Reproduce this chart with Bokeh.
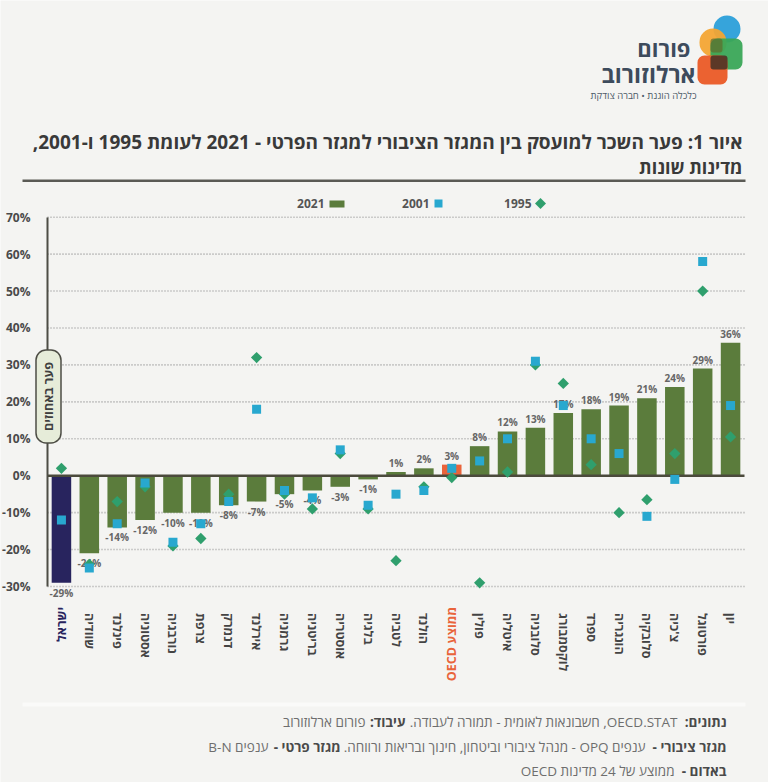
import math

from bokeh.core.properties import value
from bokeh.embed import file_html
from bokeh.models import (BoxAnnotation, ColumnDataSource, FixedTicker, Label,
                          PolyAnnotation, PrintfTickFormatter, Range1d)
from bokeh.plotting import figure
from bokeh.resources import INLINE

# ---------------------------------------------------------------- data
countries = [
    "ישראל", "שוודיה", "פינלנד", "אסטוניה", "נורבגיה", "צרפת", "דנמרק",
    "אירלנד", "גרמניה", "בריטניה", "אוסטריה", "בלגיה", "לטביה", "הולנד",
    "ממוצע OECD", "פולין", "איטליה", "סלובניה", "לוקסמבורג", "ספרד",
    "הונגריה", "סלובקיה", "צ'כיה", "פורטוגל", "יון",
]
gap_2021 = [-29, -21, -14, -12, -10, -10, -8, -7, -5, -4, -3, -1, 1, 2, 3,
            8, 12, 13, 17, 18, 19, 21, 24, 29, 36]
gap_2001 = [-12, -25, -13, -2, -18, -13, -7, 18, -4, -6, 7, -8, -5, -4, 2,
            4, 10, 31, 19, 10, 6, -11, -1, 58, 19]
gap_1995 = [2, -24, -7, -3, -19, -17, -5, 32, -5, -9, 6, -9, -23, -3, -0.5,
            -29, 1, 30, 25, 3, -10, -6.5, 6, 50, 10.5]
y_ticks = [-30, -20, -10, 0, 10, 20, 30, 40, 50, 60, 70]
israel = "ישראל"
oecd_avg = "ממוצע OECD"

# ---------------------------------------------------------------- style
BG = "#f4f4f2"
BAR_GREEN = "#5b7c3c"
NAVY = "#28245e"
ORANGE = "#e9643b"
CYAN = "#28a8cf"
DIAMOND_GREEN = "#2f9f6d"
TEXT_MID = "#555555"
FONT = "Open Sans"

W, H = 768, 782
# where the plotting area sits on the page (pixels)
AX_LEFT, AX_RIGHT = 47, 744
Y_TOP_PX, Y_BOT_PX = 216.7, 586.0          # pixel rows of the 70% and -30% lines

n = len(countries)
step = (AX_RIGHT - AX_LEFT) / n
ppu = (Y_BOT_PX - Y_TOP_PX) / (y_ticks[-1] - y_ticks[0])
x_lo = -0.5 - AX_LEFT / step
x_hi = n - 0.5 + (W - AX_RIGHT) / step
y_hi = y_ticks[-1] + Y_TOP_PX / ppu
y_lo = y_ticks[0] - (H - Y_BOT_PX) / ppu

RLE, PDF = "\u202b", "\u202c"


def rtl(s):
    """Right-to-left embedding so Hebrew lines lay out in reading order."""
    return RLE + s + PDF


def sy(py):
    """Page row (from the top) to screen units measured from the bottom."""
    return H - py


# the frame covers the whole page; axes are pinned inside it
p = figure(
    width=W, height=H,
    x_range=Range1d(x_lo, x_hi), y_range=Range1d(y_lo, y_hi),
    output_backend="svg", toolbar_location=None,
    min_border=0, min_border_left=0, min_border_right=0,
    min_border_top=0, min_border_bottom=0,
    background_fill_color=BG, border_fill_color=BG,
    outline_line_color=None,
)
p.title.visible = False
p.xgrid.visible = False
p.ygrid.visible = False

# ---------------------------------------------------------------- axes
yax = p.yaxis[0]
yax.fixed_location = -0.5
yax.ticker = FixedTicker(ticks=y_ticks)
yax.formatter = PrintfTickFormatter(format="%d%%")
yax.bounds = (y_ticks[0], y_ticks[-1])
yax.axis_line_color = "#4d4d45"
yax.axis_line_width = 2
yax.major_tick_line_color = None
yax.minor_tick_line_color = None
yax.major_label_standoff = 11
yax.major_label_text_font = FONT
yax.major_label_text_font_style = "bold"
yax.major_label_text_font_size = "12px"
yax.major_label_text_color = "#4a4a4a"

x_axis_at = y_ticks[0] - (600.5 - Y_BOT_PX) / ppu
xax = p.xaxis[0]
xax.fixed_location = x_axis_at
idx = list(range(n))
xax.ticker = FixedTicker(ticks=idx)
xax.major_label_overrides = {
    i: ("" if c in (israel, oecd_avg) else rtl(c)) for i, c in enumerate(countries)
}
xax.major_label_orientation = "vertical"
xax.axis_line_color = None
xax.major_tick_line_color = None
xax.minor_tick_line_color = None
xax.major_label_standoff = 6
xax.major_label_text_font = FONT
xax.major_label_text_font_style = "bold"
xax.major_label_text_font_size = "12.5px"
xax.major_label_text_color = "#444444"

# highlighted category labels in their own colours
for name, col in ((israel, NAVY), (oecd_avg, ORANGE)):
    p.add_layout(Label(
        x=countries.index(name), y=x_axis_at, x_units="data", y_units="data",
        y_offset=-6, text=rtl(name), angle=math.pi / 2, text_align="right",
        text_baseline="middle", text_font=FONT, text_font_style="bold",
        text_font_size="12.5px", text_color=col))

# dotted gridlines between the axis and the last category
grid_vals = [t for t in y_ticks if t != 0]
p.segment(x0=[-0.5] * len(grid_vals), x1=[n - 0.5] * len(grid_vals),
          y0=grid_vals, y1=grid_vals, line_color="#a2a2a2",
          line_dash="1 2", line_width=1.6)

# ---------------------------------------------------------------- bars
bar_colors = [NAVY if c == israel else ORANGE if c == oecd_avg else BAR_GREEN
              for c in countries]
p.vbar(x=idx, top=gap_2021, bottom=0, width=0.7, fill_color=bar_colors,
       line_color=None)

# zero line
p.segment(x0=[-0.5], x1=[n - 0.5], y0=[0], y1=[0], line_color="#4b4a3c",
          line_width=2.5)

# value labels above / below the bars
pos = ColumnDataSource(dict(
    x=[i for i, v in zip(idx, gap_2021) if v >= 0],
    y=[v for v in gap_2021 if v >= 0],
    t=[f"{v}%" for v in gap_2021 if v >= 0]))
neg = ColumnDataSource(dict(
    x=[i for i, v in zip(idx, gap_2021) if v < 0],
    y=[v for v in gap_2021 if v < 0],
    t=[f"{v}%" for v in gap_2021 if v < 0]))
p.text(x="x", y="y", text="t", source=pos, text_align="center",
       text_baseline="bottom", y_offset=-2, text_font=value(FONT),
       text_font_size="10px", text_font_style="bold", text_color="#666666")
p.text(x="x", y="y", text="t", source=neg, text_align="center",
       text_baseline="top", y_offset=3, text_font=value(FONT),
       text_font_size="10px", text_font_style="bold", text_color="#666666")

# ---------------------------------------------------------------- markers
p.scatter(x=idx, y=gap_1995, marker="square", angle=math.pi / 4, size=8,
          fill_color=DIAMOND_GREEN, line_color=None)
p.scatter(x=idx, y=gap_2001, marker="square", size=9,
          fill_color=CYAN, line_color=None)


# ---------------------------------------------------------------- page texts
def text_at(x, y, s, size, color, bold=False, align="right", angle=0.0, **kw):
    p.add_layout(Label(
        x=x, y=sy(y), x_units="screen", y_units="screen", text=s,
        text_font=FONT, text_font_size=f"{size}px",
        text_font_style="bold" if bold else "normal", text_color=color,
        text_align=align, text_baseline="middle", angle=angle, **kw))


def box_at(left, top, right, bottom, color, radius=0, alpha=1.0):
    p.add_layout(BoxAnnotation(
        left=left, right=right, top=sy(top), bottom=sy(bottom),
        left_units="screen", right_units="screen",
        top_units="screen", bottom_units="screen",
        fill_color=color, fill_alpha=alpha, line_color=None,
        border_radius=radius))


# y-axis caption pill
text_at(48, 396, rtl("פער באחוזים"), 12.5, "#3f3f3f", bold=True, align="center",
        angle=math.pi / 2, background_fill_color="#e6ecd9",
        border_line_color="#4d4d45", border_line_width=1.5,
        border_radius=10, padding=(12, 4))

# legend
text_at(324, 203, "2021", 12, TEXT_MID, bold=True)
box_at(329, 200, 344, 207, BAR_GREEN)
text_at(429, 203, "2001", 12, TEXT_MID, bold=True)
box_at(434, 199, 442, 207, CYAN)
text_at(531, 203, "1995", 12, TEXT_MID, bold=True)
p.add_layout(PolyAnnotation(
    xs=[540, 545.5, 540, 534.5], ys=[sy(197.5), sy(203), sy(208.5), sy(203)],
    xs_units="screen", ys_units="screen",
    fill_color=DIAMOND_GREEN, fill_alpha=1, line_color=None))

# title
text_at(742, 141, rtl("איור 1: פער השכר למועסק בין המגזר הציבורי למגזר הפרטי - 2021 לעומת 1995 ו-2001,"),
        19, "#393939", bold=True)
text_at(742, 166, rtl("מדינות שונות"), 18, "#393939", bold=True)
box_at(22, 179, 745, 181.5, "#5a5a55")

# logo
box_at(713, 15, 740, 42, "#2b9fd9", radius=14, alpha=0.95)
box_at(699, 28, 726, 56, "#f3a534", radius=14, alpha=0.95)
box_at(710, 38, 742, 69, "#3aa657", radius=7, alpha=0.95)
box_at(697, 55, 727, 84, "#ea5a26", radius=7, alpha=0.95)
box_at(710, 55, 727, 69, "#4e3427", radius=3, alpha=0.9)
box_at(710, 38, 722, 52, "#5f6b2c", radius=3, alpha=0.7)
text_at(690, 47, rtl("פורום"), 22, "#3d4b5c", bold=True)
text_at(695, 73, rtl("ארלוזורוב"), 23, "#3d4b5c", bold=True)
text_at(696, 95, rtl("כלכלה הוגנת • חברה צודקת"), 9.5, "#4c5a68")

# notes
box_at(22, 702, 745, 706, "#ffffff", alpha=0.5)
NOTE = "#6e6e6e"
NOTE_B = "#4a4a4a"
NS = 13.5
text_at(726, 721, rtl("נתונים:"), NS, NOTE_B, bold=True)
text_at(677, 721, rtl("OECD.STAT, חשבונאות לאומית - תמורה לעבודה."), NS, NOTE)
text_at(405, 721, rtl("עיבוד:"), NS, NOTE_B, bold=True)
text_at(365, 721, rtl("פורום ארלוזורוב"), NS, NOTE)
text_at(726, 746, rtl("מגזר ציבורי -"), NS, NOTE_B, bold=True)
text_at(645, 746, rtl("ענפים OPQ - מנהל ציבורי וביטחון, חינוך ובריאות ורווחה."), NS, NOTE)
text_at(340, 746, rtl("מגזר פרטי -"), NS, NOTE_B, bold=True)
text_at(268, 746, rtl("ענפים B-N"), NS, NOTE)
text_at(726, 770, rtl("באדום -"), NS, NOTE_B, bold=True)
text_at(674, 770, rtl("ממוצע של 24 מדינות OECD"), NS, NOTE)

open("out.html", "w").write(file_html(p, INLINE))
